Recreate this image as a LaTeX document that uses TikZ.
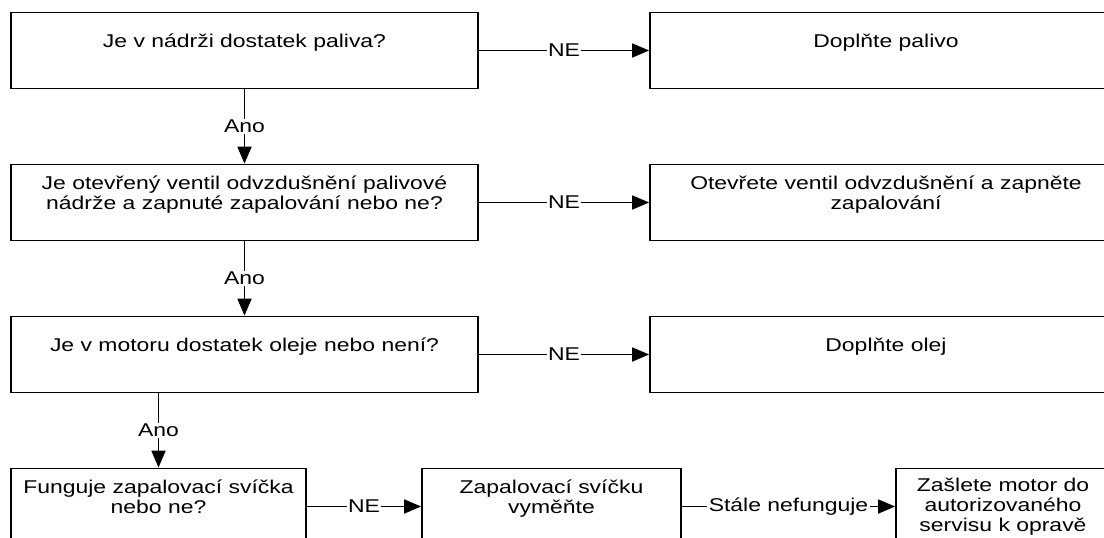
\documentclass[tikz,border=0pt]{standalone}
\usepackage{fontspec}
\setmainfont{Liberation Sans}[FakeStretch=1.24]
\usetikzlibrary{arrows.meta}

\begin{document}
\begin{tikzpicture}[x=1pt,y=-1pt,font=\fontsize{18.5pt}{20pt}\selectfont,
  box/.style={draw,line width=1.8pt,minimum height=76pt,inner sep=0pt,align=center},
  flow/.style={line width=1.8pt,-{Triangle[length=17pt,width=14pt]}},
  lbl/.style={fill=white,inner sep=1.5pt}]
  \useasboundingbox (0,0) rectangle (1104,538);
  \clip (0,0) rectangle (1104,538);
  \def\xl{244.5}
  \def\xr{886}
  % questions on the left, remedies on the right
  \node[box,minimum width=467pt] (fuel) at (\xl,50.5) {Je v nádrži dostatek paliva?\\\mbox{}};
  \node[box,minimum width=472pt] (addfuel) at (\xr,50.5) {Doplňte palivo\\\mbox{}};
  \node[box,minimum width=467pt] (vent) at (\xl,202.5) {Je otevřený ventil odvzdušnění palivové\\nádrže a zapnuté zapalování nebo ne?\\\mbox{}};
  \node[box,minimum width=472pt] (openvent) at (\xr,202.5) {Otevřete ventil odvzdušnění a zapněte\\zapalování\\\mbox{}};
  \node[box,minimum width=467pt] (oil) at (\xl,354.5) {Je v motoru dostatek oleje nebo není?\\\mbox{}};
  \node[box,minimum width=472pt] (addoil) at (\xr,354.5) {Doplňte olej\\\mbox{}};
  \node[box,minimum width=295pt] (plug) at (158.5,506.5) {Funguje zapalovací svíčka\\nebo ne?\\\mbox{}};
  \node[box,minimum width=259pt] (newplug) at (551.5,506.5) {Zapalovací svíčku\\vyměňte\\\mbox{}};
  \node[box,minimum width=214pt] (service) at (1003,506.5) {Zašlete motor do\\autorizovaného\\servisu k opravě};
  % yes branch
  \draw[flow] (fuel) -- node[lbl] {Ano} (vent);
  \draw[flow] (vent) -- node[lbl] {Ano} (oil);
  \draw[flow] (plug |- oil.south) -- node[lbl] {Ano} (plug);
  % no branch
  \draw[flow] (fuel) -- node[lbl] {NE} (addfuel);
  \draw[flow] (vent) -- node[lbl] {NE} (openvent);
  \draw[flow] (oil) -- node[lbl] {NE} (addoil);
  \draw[flow] (plug) -- node[lbl] {NE} (newplug);
  \draw[flow] (newplug) -- node[lbl] {Stále nefunguje} (service);
\end{tikzpicture}
\end{document}
